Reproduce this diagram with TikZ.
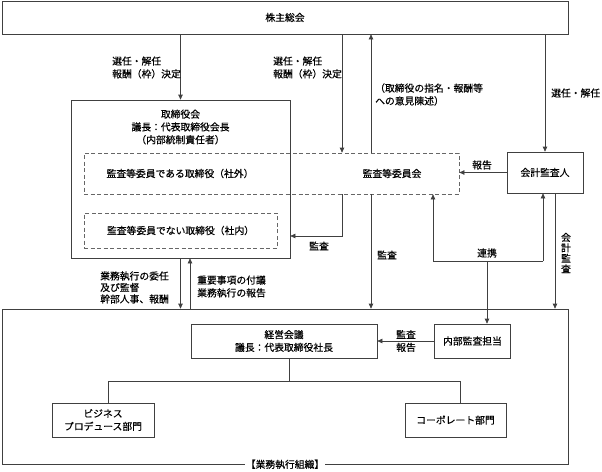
\documentclass[tikz,border=0pt]{standalone}
\usepackage{fontspec}
\setmainfont{Noto Sans CJK JP}[FakeBold=0.5]
\usetikzlibrary{arrows.meta}
\begin{document}
\begin{tikzpicture}[x=1pt,y=-1pt,
  every node/.style={font=\fontsize{9.8pt}{12.8pt}\selectfont, inner sep=0pt, text=black},
  box/.style={draw=black!75, line width=0.7pt, align=center},
  dbox/.style={draw=black!60, line width=0.7pt, dash pattern=on 4pt off 2.5pt},
  arr/.style={draw=black!75, line width=0.7pt, -{Triangle[length=5pt,width=4.5pt]}},
  ln/.style={draw=black!75, line width=0.7pt},
  lbl/.style={align=left}]
\useasboundingbox (0,0) rectangle (602,471);
% main boxes
\node[box, minimum width=566pt, minimum height=33pt] (gm) at (285,17.5) {株主総会};
\node[box, minimum width=219pt, minimum height=158pt] (board) at (180.5,179) {};
\node[align=center] (boardt) at (180.5,127) {取締役会\\議長：代表取締役会長\\（内部統制責任者）};
\node[dbox, minimum width=375pt, minimum height=41pt] (ac) at (271.5,173.5) {};
\node (acm) at (180,173.5) {監査等委員である取締役（社外）};
\node (acn) at (392,173.5) {監査等委員会};
\node[dbox, minimum width=193pt, minimum height=35pt] (nac) at (180.5,230.5) {監査等委員でない取締役（社内）};
\node[box, minimum width=76pt, minimum height=41pt] (aud) at (545,172.5) {会計監査人};
\node[box, minimum width=566pt, minimum height=155pt] (org) at (285,386.5) {};
\node[fill=white, inner xsep=1pt, inner ysep=2pt] (orgl) at (org.south) {【業務執行組織】};
\node[box, minimum width=186pt, minimum height=34pt] (meet) at (284,341) {経営会議\\議長：代表取締役社長};
\node[box, minimum width=76pt, minimum height=34pt] (ia) at (472.5,341) {内部監査担当};
\node[box, minimum width=102pt, minimum height=34pt] (biz) at (103,420) {ビジネス\\プロデュース部門};
\node[box, minimum width=101pt, minimum height=34pt] (corp) at (455.5,420) {コーポレート部門};
% helper coordinates
\coordinate (x342) at (342,0);
\coordinate (x370) at (371,0);
\coordinate (x190) at (190,0);
\coordinate (x555) at (555,0);
\coordinate (k) at (342,236);
\coordinate (rl) at (433,261);
\coordinate (rr) at (543,261);
\coordinate (rm) at (487,261);
\coordinate (tj) at (289,381);
\coordinate (tb) at (108,381);
\coordinate (tc) at (460,381);
% connectors
\draw[arr] (gm.south -| board.north) -- (board.north);
\draw[arr] (gm.south -| x342) -- (ac.north -| x342);
\draw[arr] (ac.north -| x370) -- (gm.south -| x370);
\draw[arr] (gm.south -| aud.north) -- (aud.north);
\draw[arr] (aud.west) -- (aud.west -| ac.east);
\draw[arr] (ac.south -| k) |- (board.east |- k);
\draw[arr] (ac.south -| x370) -- (org.north -| x370);
\draw[ln] (rl) -- (rr);
\draw[arr] (rl) -- (ac.south -| rl);
\draw[arr] (rr) -- (aud.south -| rr);
\draw[arr] (rm) -- (ia.north -| rm);
\draw[arr] (aud.south -| x555) -- (org.north -| x555);
\draw[arr] (board.south) -- (org.north -| board.south);
\draw[arr] (org.north -| x190) -- (board.south -| x190);
\draw[arr] (ia.west) -- (meet.east);
\draw[ln] (meet.south -| tj) -- (tj);
\draw[ln] (tb) -- (tc);
\draw[ln] (tb) -- (biz.north -| tb);
\draw[ln] (tc) -- (corp.north -| tc);
% labels
\node[lbl, anchor=west] (l1) at (112,67.5) {選任・解任\\報酬（枠）決定};
\node[lbl, anchor=west] (l2) at (273,67.5) {選任・解任\\報酬（枠）決定};
\node[lbl, anchor=west] (l3) at (375,94.5) {（取締役の指名・報酬等\\への意見陳述）};
\node[anchor=west] (l4) at (551,93) {選任・解任};
\node (l5) at (482,165) {報告};
\node (l6) at (319,246) {監査};
\node (l7) at (387,255) {監査};
\node (l8) at (487,253) {連携};
\node[align=center, font=\fontsize{9.8pt}{10.5pt}\selectfont] (l9) at (566,253) {会\\計\\監\\査};
\node[lbl, anchor=west, font=\fontsize{9.8pt}{11.5pt}\selectfont] (l10) at (100,287.5) {業務執行の委任\\及び監督\\幹部人事、報酬};
\node[lbl, anchor=west] (l11) at (197,286.5) {重要事項の付議\\業務執行の報告};
\node[align=center] (l12) at (406,341) {監査\\報告};
\end{tikzpicture}
\end{document}
